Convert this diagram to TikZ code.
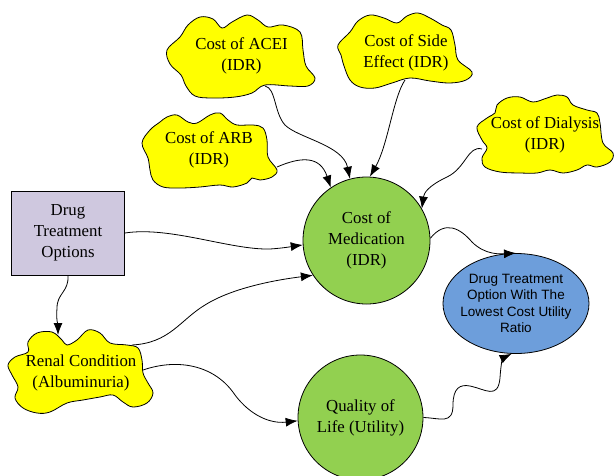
\documentclass[tikz,border=0pt]{standalone}
\usepackage{fontspec}
\setmainfont{Liberation Serif}
\newfontfamily\arialfont{Liberation Sans}
\usetikzlibrary{shapes.geometric,arrows.meta,calc}
\definecolor{cloudyellow}{HTML}{FFFF00}
\definecolor{medgreen}{HTML}{92D050}
\definecolor{boxlavender}{HTML}{CFC8DF}
\definecolor{goalblue}{HTML}{6D9EDB}
\begin{document}
\begin{tikzpicture}[x=1pt,y=-1pt,
  cloudshape/.style={draw=black,fill=cloudyellow,line width=0.8pt},
  cloudtext/.style={align=center,font=\fontsize{16.8}{21}\selectfont,inner sep=0pt},
  bubble/.style={circle,draw=black,fill=medgreen,line width=0.8pt,inner sep=0pt,align=center,font=\fontsize{16.8}{21}\selectfont},
  conn/.style={draw=black,line width=0.8pt,-{Latex[length=12pt,width=9pt]}}]
\useasboundingbox (0,0) rectangle (614,475);
\clip (0,0) rectangle (614,475);

% clouds
\draw[cloudshape] plot[smooth cycle,tension=0.6] coordinates {(167,50) (180,37) (188,25) (200,17) (213,19) (222,28) (232,22) (247,15) (258,20) (268,27) (283,25) (300,32) (303,50) (306,66) (315,78) (308,86) (290,86) (265,85) (252,93) (235,97) (212,98) (195,96) (186,86) (181,75) (170,64)};
\draw[cloudshape] plot[smooth cycle,tension=0.6] coordinates {(338,45) (350,32) (358,21) (370,15) (384,18) (397,23) (407,16) (418,13) (430,18) (442,25) (451,30) (455,45) (458,60) (472,72) (466,80) (450,83) (430,81) (410,78) (392,83) (375,88) (360,87) (350,80) (344,66) (341,55)};
\draw[cloudshape] plot[smooth cycle,tension=0.6] coordinates {(142,143) (150,130) (160,122) (167,117) (177,115) (188,122) (197,123) (210,115) (220,113) (228,120) (237,125) (253,125) (263,128) (267,140) (268,157) (277,170) (272,177) (260,180) (252,178) (247,183) (233,187) (220,185) (200,187) (180,188) (163,187) (153,180) (150,170) (148,158)};
\draw[cloudshape] plot[smooth cycle,tension=0.6] coordinates {(477,127) (487,118) (495,113) (497,105) (507,98) (520,97) (533,102) (547,98) (557,95) (567,97) (573,105) (587,110) (597,113) (600,123) (603,143) (613,153) (610,162) (597,167) (587,165) (577,170) (563,173) (550,170) (537,173) (520,173) (500,172) (485,167) (482,158) (487,148) (482,140)};
\draw[cloudshape] plot[smooth cycle,tension=0.6] coordinates {(8,365) (15,357) (28,352) (28,342) (37,333) (52,332) (62,340) (67,345) (77,340) (88,330) (100,333) (110,343) (127,345) (138,348) (142,360) (143,373) (148,383) (153,393) (147,403) (133,407) (123,402) (113,395) (100,397) (83,400) (67,403) (50,412) (37,413) (23,408) (15,398) (18,387) (12,375)};

% cloud texts
\node[cloudtext] (acei) at (241.5,55.5) {Cost of ACEI\\(IDR)};
\node[cloudtext] (side) at (406,52.5) {Cost of Side\\Effect (IDR)};
\node[cloudtext] (arb) at (209,150) {Cost of ARB\\(IDR)};
\node[cloudtext] (dial) at (545,135) {Cost of Dialysis\\(IDR)};
\node[cloudtext] (renal) at (81,372.5) {Renal Condition\\(Albuminuria)};

% other nodes
\node[draw=black,fill=boxlavender,line width=0.8pt,minimum width=113pt,minimum height=84pt,inner sep=0pt,align=center,font=\fontsize{16.8}{21}\selectfont] (drug) at (68,233) {Drug\\Treatment\\Options};
\node[bubble,minimum size=127pt] (med) at (366.5,240.5) {Cost of\\Medication\\(IDR)};
\node[bubble,minimum size=125pt] (qual) at (360.5,417.5) {Quality of\\Life (Utility)};
\node[ellipse,draw=black,fill=goalblue,line width=0.8pt,minimum width=146pt,minimum height=100pt,inner sep=0pt] (goal) at (516,303.5) {};
\node[align=center,inner sep=0pt,font=\arialfont\fontsize{13.5}{16.5}\selectfont] (goaltext) at (goal.center) {Drug Treatment\\Option With The\\Lowest Cost Utility\\Ratio};

% connectors
\draw[conn] ($(acei)+(23.5,30.5)$) .. controls (276,88) and (274,113) .. (285,125) .. controls (298,138) and (343,145) .. (med.105);
\draw[conn] ($(side)+(-1,27.5)$) .. controls (393,98) and (388,145) .. (med.87);
\draw[conn] ($(arb)+(68,17)$) .. controls (300,157) and (320,155) .. (med.124);
\draw[conn] ($(dial)+(-63,14)$) .. controls (468,145) and (466,168) .. (447,177) .. controls (428,186) and (424,193) .. (med.30);
\draw[conn] (med.2) .. controls (445,220) and (460,228) .. (472,242) .. controls (485,255) and (500,254) .. (goal.north);
\draw[conn] (drug.east) .. controls (170,226) and (230,250) .. (270,249) .. controls (285,248) and (295,246) .. (med.184);
\draw[conn] (drug.south) .. controls (69,292) and (57,293) .. (57,308) .. controls (56,320) and (58,326) .. ($(renal)+(-23,-37.5)$);
\draw[conn] ($(renal)+(51,-27.5)$) .. controls (170,343) and (180,320) .. (205,305) .. controls (232,288) and (275,280) .. (med.213);
\draw[conn] ($(renal)+(62,-2.5)$) .. controls (178,358) and (215,365) .. (235,395) .. controls (250,415) and (270,424) .. (qual.183);
\draw[conn] (qual.0) .. controls (440,418) and (453,425) .. (453,405) .. controls (453,388) and (460,384) .. (470,386) .. controls (485,389) and (498,400) .. (500,378) .. controls (501,362) and (503,358) .. (goal.265);
\end{tikzpicture}
\end{document}
